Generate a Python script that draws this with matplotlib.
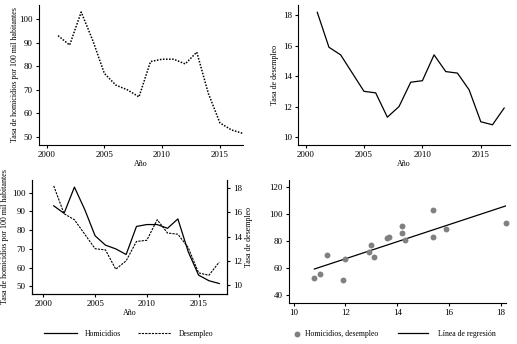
import numpy as np
import matplotlib
matplotlib.use("Agg")
import matplotlib.pyplot as plt

# Datos
anios = [2001, 2002, 2003, 2004, 2005, 2006, 2007, 2008, 2009,
         2010, 2011, 2012, 2013, 2014, 2015, 2016, 2017]
homicidios = [93, 89, 103, 91, 77, 72, 70, 67, 82,
              83, 83, 81, 86, 68.5, 56, 53, 51.5]
desempleo = [18.2, 15.9, 15.4, 14.2, 13.0, 12.9, 11.3, 12.0, 13.6,
             13.7, 15.4, 14.3, 14.2, 13.1, 11.0, 10.8, 11.9]

plt.rcParams['font.family'] = ['Liberation Serif', 'DejaVu Serif']
plt.rcParams['font.size'] = 6.5
plt.rcParams['axes.labelsize'] = 5.8
plt.rcParams['legend.fontsize'] = 5.6
plt.rcParams['axes.linewidth'] = 0.8
plt.rcParams['xtick.major.size'] = 2.5
plt.rcParams['ytick.major.size'] = 2.5
plt.rcParams['xtick.major.width'] = 0.8
plt.rcParams['ytick.major.width'] = 0.8
plt.rcParams['xtick.major.pad'] = 1.5
plt.rcParams['ytick.major.pad'] = 2

W, H = 517, 344
fig = plt.figure(figsize=(W / 100, H / 100), dpi=100)

def caja(l, r, t, b):
    return [l / W, (H - b) / H, (r - l) / W, (b - t) / H]

def limpiar(ax, derecha=False):
    ax.spines['top'].set_visible(False)
    if not derecha:
        ax.spines['right'].set_visible(False)

# Arriba izquierda: homicidios
ax1 = fig.add_axes(caja(39, 243, 5, 145))
ax1.plot(anios, homicidios, color='black', linestyle=(0, (1, 1)), linewidth=1.1)
ax1.set_xlim(1999.35, 2017.0)
ax1.set_ylim(46.6, 106)
ax1.set_xticks([2000, 2005, 2010, 2015])
ax1.set_yticks([50, 60, 70, 80, 90, 100])
ax1.set_xlabel('Año', labelpad=1)
ax1.set_ylabel('Tasa de homicidios por 100 mil habitantes', labelpad=0.5)
limpiar(ax1)

# Arriba derecha: desempleo
ax2 = fig.add_axes(caja(298, 510, 5, 145))
ax2.plot(anios, desempleo, color='black', linewidth=0.9)
ax2.set_xlim(1999.35, 2017.5)
ax2.set_ylim(9.47, 18.68)
ax2.set_xticks([2000, 2005, 2010, 2015])
ax2.set_yticks([10, 12, 14, 16, 18])
ax2.set_xlabel('Año', labelpad=1)
ax2.set_ylabel('Tasa de desempleo', labelpad=3)
limpiar(ax2)

# Abajo izquierda: ambas series
ax3 = fig.add_axes(caja(32, 227, 180, 294))
l1, = ax3.plot(anios, homicidios, color='black', linewidth=0.9, label='Homicidios')
ax3.set_xlim(1998.9, 2017.75)
ax3.set_ylim(45.9, 106.8)
ax3.set_xticks([2000, 2005, 2010, 2015])
ax3.set_yticks([50, 60, 70, 80, 90, 100])
ax3.set_xlabel('Año', labelpad=1)
ax3.set_ylabel('Tasa de homicidios por 100 mil habitantes', labelpad=2)
ax3.spines['top'].set_visible(False)
ax3b = ax3.twinx()
l2, = ax3b.plot(anios, desempleo, color='black', linewidth=0.8,
                linestyle=(0, (2, 1)), label='Desempleo')
ax3b.set_ylim(9.25, 18.69)
ax3b.set_yticks([10, 12, 14, 16, 18])
ax3b.set_ylabel('Tasa de desempleo', labelpad=2)
ax3b.spines['top'].set_visible(False)
ax3.legend(handles=[l1, l2], loc='center', ncol=2, frameon=False,
           bbox_to_anchor=(128.5 / W, (H - 334) / H), bbox_transform=fig.transFigure,
           handlelength=4.25, columnspacing=2.2, handletextpad=1.0)

# Abajo derecha: dispersión y regresión
ax4 = fig.add_axes(caja(289, 506, 180, 303))
pts = ax4.scatter(desempleo, homicidios, s=18, color='#808080', linewidths=0,
                  label='Homicidios, desempleo', zorder=3, clip_on=False)
m, c = np.polyfit(desempleo, homicidios, 1)
xr = np.array([min(desempleo), max(desempleo)])
reg, = ax4.plot(xr, m * xr + c, color='black', linewidth=0.9, label='Línea de regresión')
ax4.set_xlim(9.82, 18.2)
ax4.set_ylim(34.3, 124.9)
ax4.set_xticks([10, 12, 14, 16, 18])
ax4.set_yticks([40, 60, 80, 100, 120])
limpiar(ax4)
leg_a = ax4.legend(handles=[pts], loc='center', frameon=False,
                   bbox_to_anchor=(336 / W, (H - 334) / H), bbox_transform=fig.transFigure,
                   handlelength=1.0, handletextpad=0.5, scatterpoints=1)
ax4.add_artist(leg_a)
ax4.legend(handles=[reg], loc='center', frameon=False,
           bbox_to_anchor=(446.5 / W, (H - 334) / H), bbox_transform=fig.transFigure,
           handlelength=3.86, handletextpad=1.3)

fig.savefig('out.png', dpi=100)
